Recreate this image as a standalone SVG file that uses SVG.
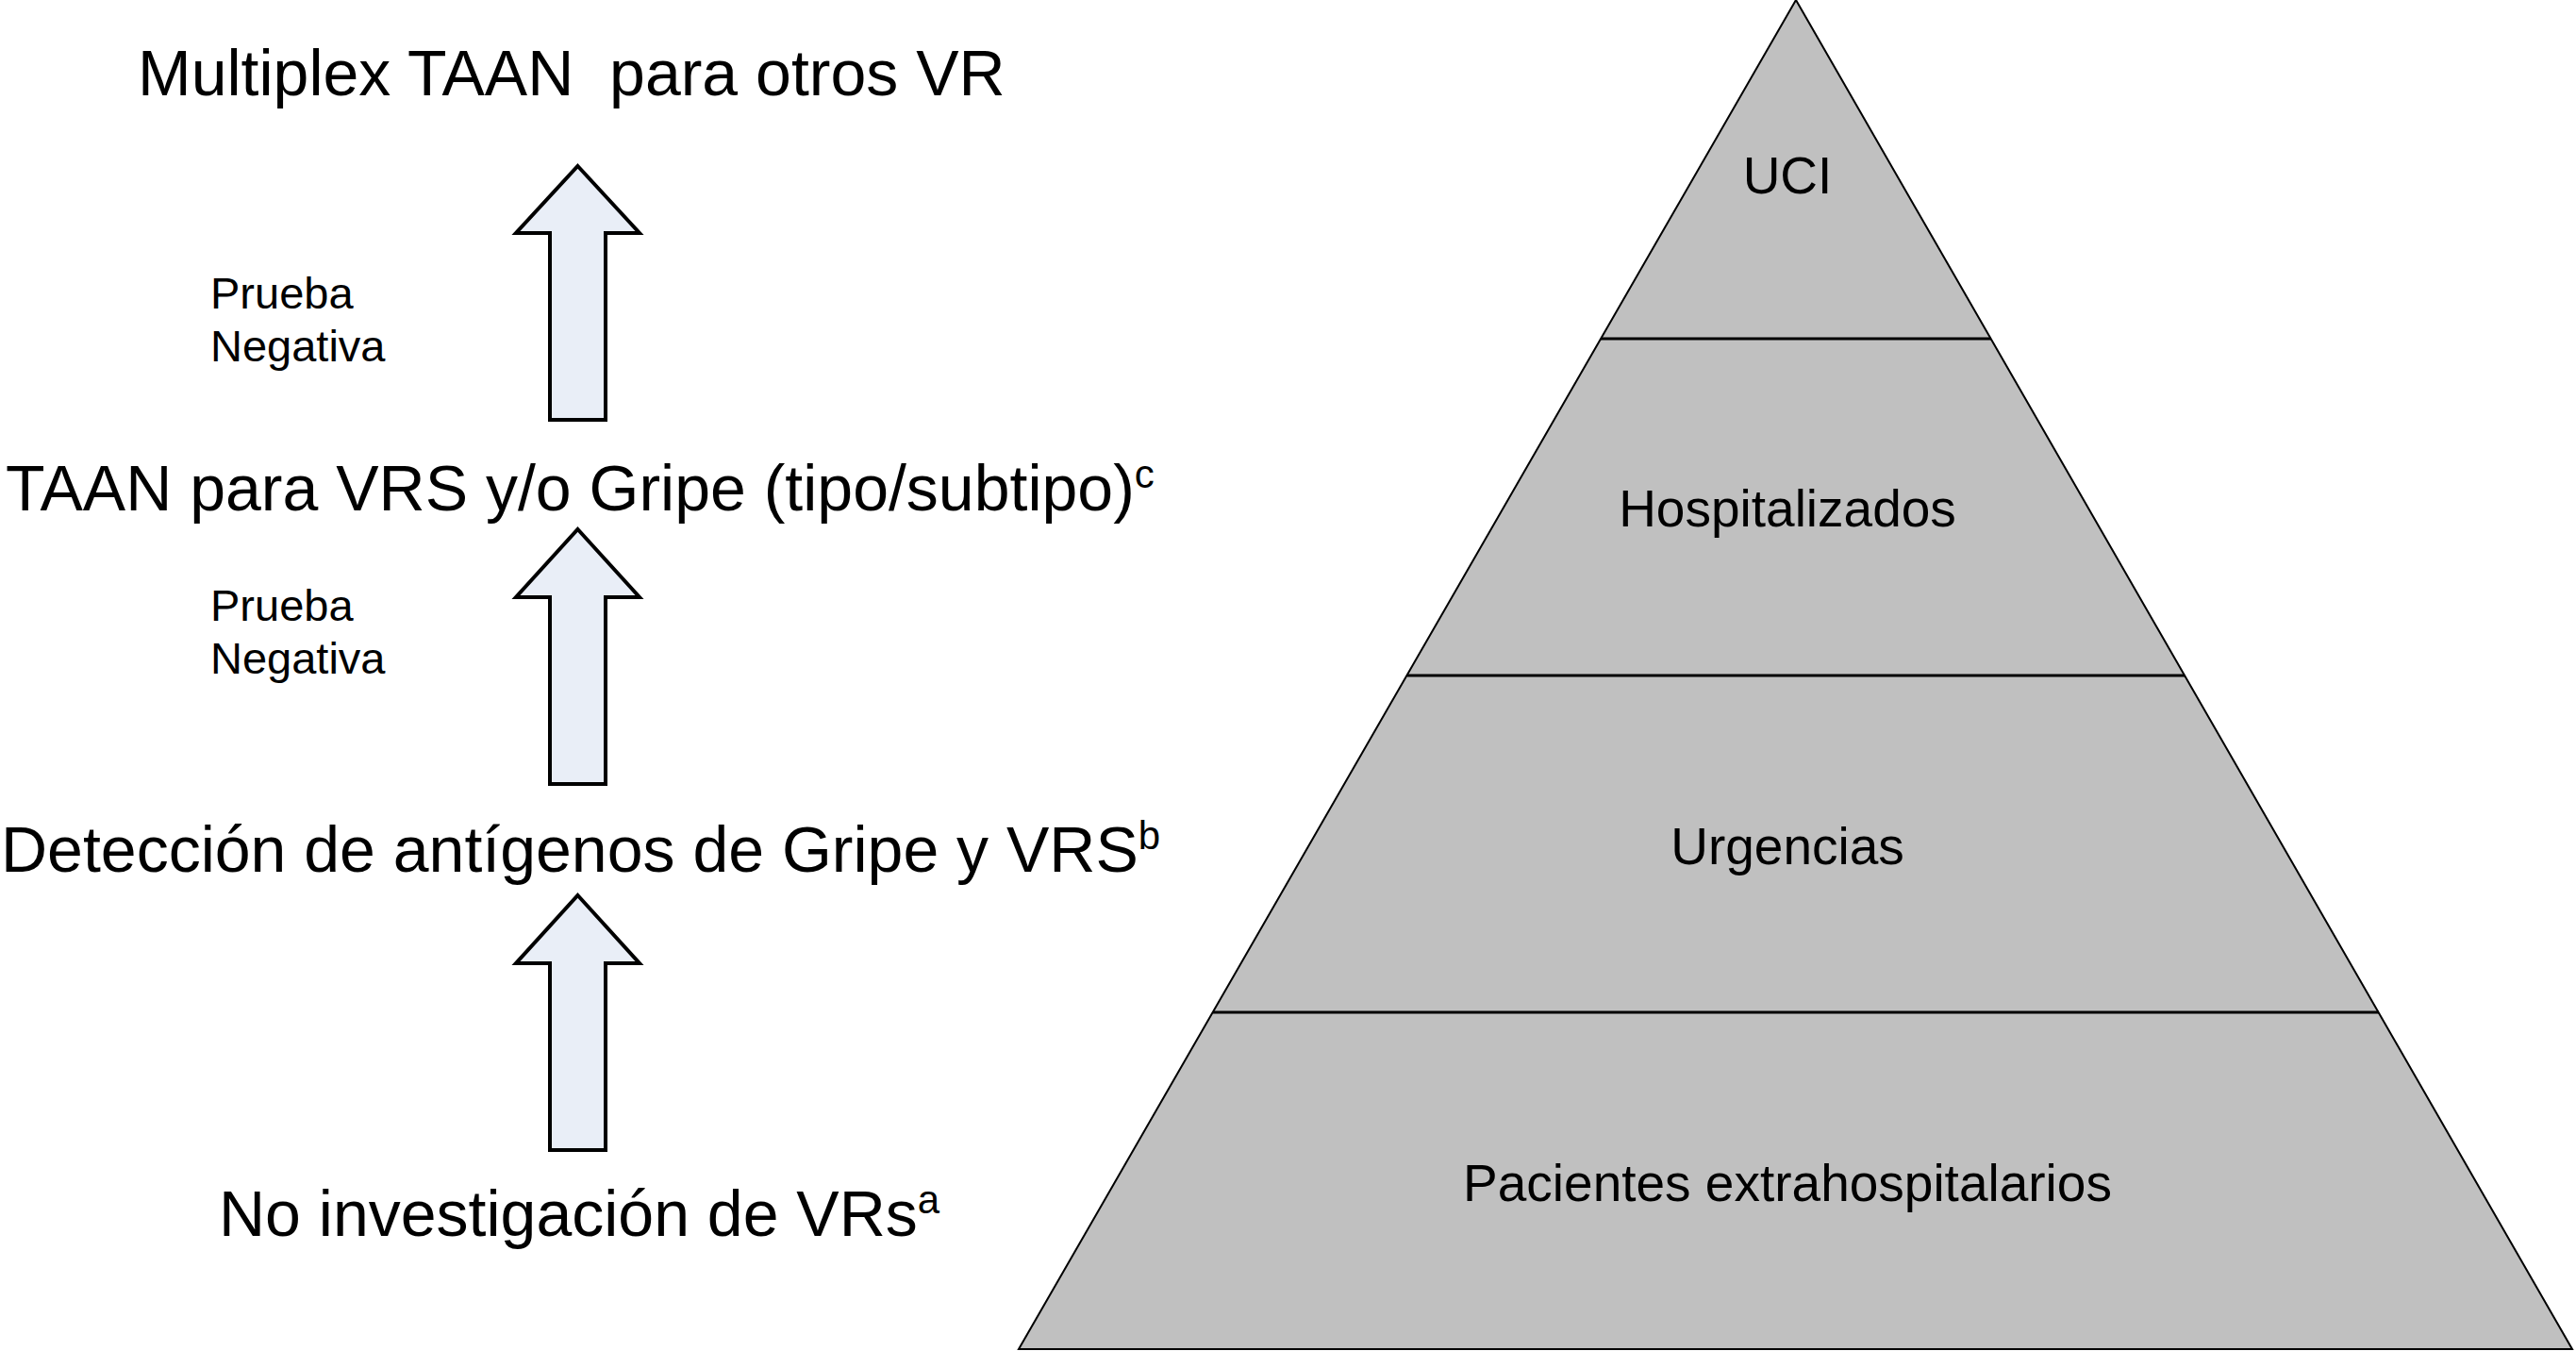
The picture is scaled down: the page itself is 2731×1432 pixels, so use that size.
<svg xmlns="http://www.w3.org/2000/svg" width="2731" height="1432" viewBox="0 0 2731 1432">
  <style>
    .big { font-family: "Liberation Sans", Arial, Helvetica, sans-serif; font-size: 68px; fill: #000; white-space: pre; }
    .sup { font-size: 42px; }
    .lbl { font-family: "Liberation Sans", Arial, Helvetica, sans-serif; font-size: 47px; fill: #000; }
    .pyr { font-family: "Liberation Sans", Arial, Helvetica, sans-serif; font-size: 55px; fill: #000; text-anchor: middle; }
    .arrow { fill: #E9EEF7; stroke: #000; stroke-width: 4; stroke-linejoin: miter; }
    .tier { fill: none; stroke: #000; stroke-width: 3; }
  </style>
  <rect width="2731" height="1432" fill="#FFFFFF"/>

  <g id="pyramid">
    <polygon points="1904,0 2727,1430 1080,1430" fill="#C0C0C0" stroke="#000" stroke-width="2"/>
    <line class="tier" x1="1697" y1="359" x2="2111" y2="359"/>
    <line class="tier" x1="1492" y1="716" x2="2316" y2="716"/>
    <line class="tier" x1="1286" y1="1073" x2="2522" y2="1073"/>
  </g>

  <g id="tier-uci"><text class="pyr" x="1895" y="205">UCI</text></g>
  <g id="tier-hospitalizados"><text class="pyr" x="1895" y="558">Hospitalizados</text></g>
  <g id="tier-urgencias"><text class="pyr" x="1895" y="916">Urgencias</text></g>
  <g id="tier-extrahospitalarios"><text class="pyr" x="1895" y="1273">Pacientes extrahospitalarios</text></g>

  <g id="step-multiplex"><text class="big" x="146" y="101">Multiplex TAAN  para otros VR</text></g>
  <g id="step-taan"><text class="big" x="6" y="541">TAAN para VRS y/o Gripe (tipo/subtipo)<tspan class="sup" dy="-24">c</tspan></text></g>
  <g id="step-antigenos"><text class="big" x="1" y="924">Detección de antígenos de Gripe y VRS<tspan class="sup" dy="-24">b</tspan></text></g>
  <g id="step-no"><text class="big" x="232" y="1310">No investigación de VRs<tspan class="sup" dy="-24">a</tspan></text></g>

  <g id="connectors">
    <polygon class="arrow" points="612.5,176 678,247 642,247 642,445 583,445 583,247 547,247"/>
    <polygon class="arrow" points="612.5,561 678,633 642,633 642,831 583,831 583,633 547,633"/>
    <polygon class="arrow" points="612.5,949 678,1021 642,1021 642,1219 583,1219 583,1021 547,1021"/>
    <g id="label-negativa-1">
      <text class="lbl" x="223" y="327">Prueba</text>
      <text class="lbl" x="223" y="383">Negativa</text>
    </g>
    <g id="label-negativa-2">
      <text class="lbl" x="223" y="658">Prueba</text>
      <text class="lbl" x="223" y="714">Negativa</text>
    </g>
  </g>
</svg>
